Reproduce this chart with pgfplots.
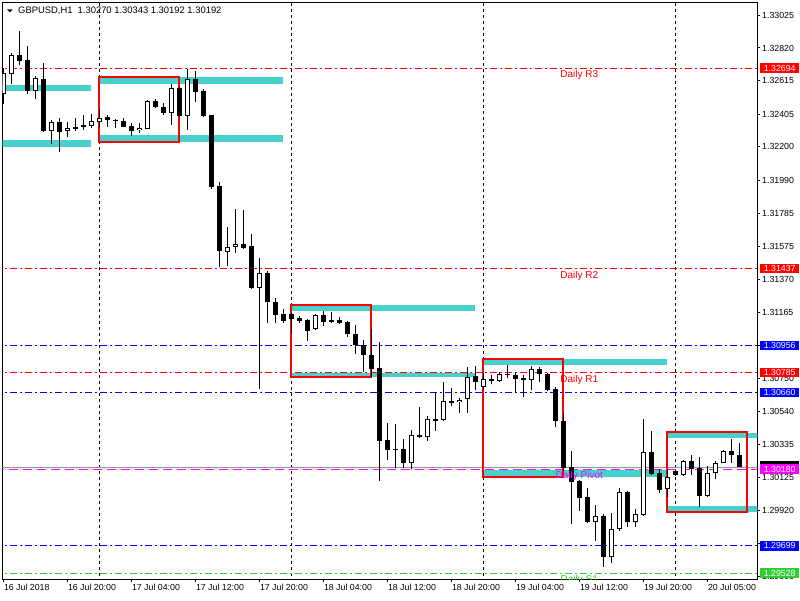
\documentclass[border=0pt]{standalone}
\usepackage{fontspec}
\setmainfont{Liberation Sans}
\usepackage{pgfplots}
\usepackage{pgfplotstable}
\pgfplotsset{compat=1.18}

\definecolor{mtred}{RGB}{255,0,0}
\definecolor{mtblue}{RGB}{0,0,255}
\definecolor{mtmag}{RGB}{255,0,255}
\definecolor{mtgreen}{RGB}{50,205,50}
\definecolor{mtcyan}{RGB}{72,209,204}
\definecolor{bidgray}{RGB}{150,150,150}
\newcommand\tickfont{\fontsize{8.8}{10}\selectfont}
\newcommand\lblfont{\fontsize{10}{12}\selectfont}

\pgfplotstableread{
k o h l c
0 1.32532 1.32693 1.32469 1.32661
1 1.32657 1.32791 1.32592 1.32776
2 1.32776 1.32927 1.32713 1.32740
3 1.32745 1.32833 1.32532 1.32550
4 1.32552 1.32644 1.32498 1.32630
5 1.32626 1.32729 1.32293 1.32302
6 1.32302 1.32369 1.32218 1.32354
7 1.32354 1.32384 1.32165 1.32295
8 1.32302 1.32354 1.32260 1.32317
9 1.32327 1.32379 1.32302 1.32314
10 1.32339 1.32400 1.32306 1.32327
11 1.32333 1.32404 1.32317 1.32362
12 1.32354 1.32438 1.32323 1.32383
13 1.32386 1.32400 1.32327 1.32369
14 1.32369 1.32375 1.32317 1.32361
15 1.32361 1.32379 1.32323 1.32327
16 1.32331 1.32348 1.32270 1.32302
17 1.32306 1.32348 1.32289 1.32319
18 1.32314 1.32494 1.32310 1.32488
19 1.32486 1.32500 1.32442 1.32448
20 1.32448 1.32473 1.32400 1.32411
21 1.32411 1.32594 1.32337 1.32567
22 1.32567 1.32574 1.32386 1.32396
23 1.32396 1.32688 1.32306 1.32626
24 1.32626 1.32676 1.32483 1.32546
25 1.32550 1.32563 1.32389 1.32396
26 1.32400 1.32403 1.31938 1.31951
27 1.31955 1.31980 1.31449 1.31549
28 1.31543 1.31698 1.31453 1.31571
29 1.31571 1.31811 1.31537 1.31591
30 1.31591 1.31805 1.31562 1.31568
31 1.31579 1.31654 1.31309 1.31316
32 1.31316 1.31502 1.30682 1.31408
33 1.31408 1.31422 1.31098 1.31230
34 1.31226 1.31251 1.31094 1.31148
35 1.31151 1.31182 1.31094 1.31110
36 1.31153 1.31157 1.31032 1.31123
37 1.31127 1.31140 1.31098 1.31110
38 1.31113 1.31121 1.30985 1.31048
39 1.31057 1.31153 1.31052 1.31146
40 1.31146 1.31171 1.31077 1.31102
41 1.31115 1.31165 1.31098 1.31102
42 1.31115 1.31132 1.31088 1.31098
43 1.31104 1.31110 1.31010 1.31025
44 1.31027 1.31084 1.30902 1.30956
45 1.30958 1.30990 1.30789 1.30897
46 1.30896 1.31057 1.30756 1.30808
47 1.30814 1.30977 1.30106 1.30358
48 1.30363 1.30467 1.30237 1.30300
49 1.30300 1.30463 1.30185 1.30306
50 1.30306 1.30369 1.30185 1.30220
51 1.30220 1.30425 1.30179 1.30394
52 1.30394 1.30571 1.30373 1.30383
53 1.30383 1.30513 1.30358 1.30494
54 1.30494 1.30662 1.30421 1.30484
55 1.30490 1.30724 1.30482 1.30605
56 1.30607 1.30687 1.30578 1.30595
57 1.30599 1.30624 1.30530 1.30613
58 1.30618 1.30818 1.30534 1.30759
59 1.30762 1.30827 1.30676 1.30724
60 1.30697 1.30781 1.30676 1.30743
61 1.30743 1.30770 1.30714 1.30734
62 1.30734 1.30791 1.30724 1.30776
63 1.30776 1.30833 1.30749 1.30768
64 1.30772 1.30789 1.30655 1.30747
65 1.30751 1.30768 1.30634 1.30739
66 1.30739 1.30827 1.30676 1.30806
67 1.30806 1.30818 1.30728 1.30775
68 1.30776 1.30785 1.30670 1.30676
69 1.30681 1.30697 1.30442 1.30484
70 1.30482 1.30534 1.30170 1.30189
71 1.30193 1.30294 1.29834 1.30101
72 1.30106 1.30110 1.29919 1.30001
73 1.30005 1.30060 1.29845 1.29849
74 1.29850 1.29957 1.29731 1.29886
75 1.29886 1.29899 1.29568 1.29627
76 1.29627 1.29907 1.29593 1.29803
77 1.29803 1.30060 1.29794 1.30039
78 1.30039 1.30042 1.29819 1.29850
79 1.29850 1.29928 1.29819 1.29899
80 1.29893 1.30494 1.29886 1.30286
81 1.30286 1.30419 1.30143 1.30148
82 1.30154 1.30179 1.30032 1.30049
83 1.30054 1.30179 1.30007 1.30133
84 1.30166 1.30175 1.30137 1.30141
85 1.30141 1.30237 1.30137 1.30229
86 1.30229 1.30269 1.30143 1.30183
87 1.30185 1.30254 1.29945 1.30014
88 1.30014 1.30200 1.30007 1.30154
89 1.30154 1.30231 1.30118 1.30217
90 1.30220 1.30300 1.30218 1.30292
91 1.30292 1.30367 1.30217 1.30270
92 1.30270 1.30343 1.30192 1.30192
}\candles

\begin{document}
\begin{tikzpicture}[x=1pt,y=1pt]
\useasboundingbox (0,0) rectangle (800,600);
\begin{axis}[
  at={(2.7pt,21pt)}, anchor=south west,
  scale only axis, width=754.6pt, height=576.5pt,
  xmin=-0.075, xmax=94.25,
  ymin=1.294913, ymax=1.331052,
  axis line style={line width=1pt, black},
  tick align=outside,
  xtick pos=left, ytick pos=right,
  major tick length=3pt,
  major tick style={line width=1pt, black},
  minor tick num=0,
  scaled ticks=false,
  xtick={0,8,16,24,32,40,48,56,64,72,80,88},
  xticklabels={16 Jul 2018,16 Jul 20:00,17 Jul 04:00,17 Jul 12:00,17 Jul 20:00,18 Jul 04:00,18 Jul 12:00,18 Jul 20:00,19 Jul 04:00,19 Jul 12:00,19 Jul 20:00,20 Jul 05:00},
  xticklabel style={anchor=north west, inner sep=0pt, xshift=0.5pt, yshift=-2pt, font=\tickfont},
  ytick={1.33025,1.32820,1.32615,1.32405,1.32200,1.31990,1.31785,1.31575,1.31370,1.31165,1.30955,1.30750,1.30540,1.30335,1.30125,1.29920,1.29715,1.29505},
  yticklabels={1.33025,1.32820,1.32615,1.32405,1.32200,1.31990,1.31785,1.31575,1.31370,1.31165,{},1.30750,1.30540,1.30335,1.30125,1.29920,{},1.29505},
  yticklabel style={anchor=west, inner sep=0pt, xshift=1.7pt, font=\tickfont},
]
% vertical day grid
\pgfplotsinvokeforeach{12,36,60,84}{
  \addplot[black, line width=1pt, dash pattern=on 3pt off 3pt] coordinates {(#1,1.2940) (#1,1.3320)};
}
% cyan zones
\addplot[fill=mtcyan, draw=none] coordinates {(-1,1.32588) (11,1.32588) (11,1.32551) (-1,1.32551)};
\addplot[fill=mtcyan, draw=none] coordinates {(-1,1.32243) (11,1.32243) (11,1.32199) (-1,1.32199)};
\addplot[fill=mtcyan, draw=none] coordinates {(12,1.32638) (35,1.32638) (35,1.32596) (12,1.32596)};
\addplot[fill=mtcyan, draw=none] coordinates {(12,1.32275) (35,1.32275) (35,1.32233) (12,1.32233)};
\addplot[fill=mtcyan, draw=none] coordinates {(36,1.31209) (59,1.31209) (59,1.31171) (36,1.31171)};
\addplot[fill=mtcyan, draw=none] coordinates {(36,1.30785) (59,1.30785) (59,1.30759) (36,1.30759)};
\addplot[fill=mtcyan, draw=none] coordinates {(60,1.30869) (83,1.30869) (83,1.30833) (60,1.30833)};
\addplot[fill=mtcyan, draw=none] coordinates {(60,1.30175) (83,1.30175) (83,1.30133) (60,1.30133)};
\addplot[fill=mtcyan, draw=none] coordinates {(83,1.30405) (96,1.30405) (96,1.30373) (83,1.30373)};
\addplot[fill=mtcyan, draw=none] coordinates {(83,1.29949) (96,1.29949) (96,1.29913) (83,1.29913)};
% pivot levels
\addplot[mtred, line width=1pt, dash pattern=on 7pt off 3pt on 2pt off 3pt] coordinates {(-1,1.32694) (96,1.32694)};
\addplot[mtred, line width=1pt, dash pattern=on 7pt off 3pt on 2pt off 3pt] coordinates {(-1,1.31437) (96,1.31437)};
\addplot[mtblue, line width=1pt, dash pattern=on 7pt off 3pt on 2pt off 3pt] coordinates {(-1,1.30956) (96,1.30956)};
\addplot[mtred, line width=1pt, dash pattern=on 7pt off 3pt on 2pt off 3pt] coordinates {(-1,1.30785) (96,1.30785)};
\addplot[mtblue, line width=1pt, dash pattern=on 7pt off 3pt on 2pt off 3pt] coordinates {(-1,1.30660) (96,1.30660)};
\addplot[bidgray, line width=1pt] coordinates {(-1,1.30192) (96,1.30192)};
\addplot[mtmag, line width=1pt, dash pattern=on 9pt off 5pt] coordinates {(-1,1.30180) (96,1.30180)};
\addplot[mtblue, line width=1pt, dash pattern=on 7pt off 3pt on 2pt off 3pt] coordinates {(-1,1.29699) (96,1.29699)};
\addplot[mtgreen, line width=1pt, dash pattern=on 7pt off 3pt on 2pt off 3pt] coordinates {(-1,1.29528) (96,1.29528)};
% red boxes
\addplot[mtred, line width=2pt, line cap=rect] coordinates {(12,1.32638) (22,1.32638) (22,1.32233) (12,1.32233) (12,1.32638)};
\addplot[mtred, line width=2pt, line cap=rect] coordinates {(36,1.31209) (46,1.31209) (46,1.30756) (36,1.30756) (36,1.31209)};
\addplot[mtred, line width=2pt, line cap=rect] coordinates {(60,1.30870) (70,1.30870) (70,1.30133) (60,1.30133) (60,1.30870)};
\addplot[mtred, line width=2pt, line cap=rect] coordinates {(83,1.30411) (93,1.30411) (93,1.29909) (83,1.29909) (83,1.30411)};
% candles: wicks
\addplot[draw=none, mark=none, error bars/.cd, y dir=plus, y explicit, error mark=none,
  error bar style={line width=1pt, draw=black}]
  table[x=k, y=l, y error plus expr={\thisrow{h}-\thisrow{l}}] {\candles};
% candles: bodies
\addplot[draw=none, mark=none, error bars/.cd, y dir=plus, y explicit, error mark=none,
  error bar style={line width=5pt, draw=black}]
  table[x=k, y expr={min(\thisrow{o},\thisrow{c})}, y error plus expr={max(abs(\thisrow{c}-\thisrow{o}),0.00007)}] {\candles};
% candles: white interiors of rising bars
\addplot[draw=none, mark=none, error bars/.cd, y dir=plus, y explicit, error mark=none,
  error bar style={line width=3pt, draw=white}]
  table[x=k, y expr={\thisrow{o}+0.0000627}, y error plus expr={max(\thisrow{c}-\thisrow{o}-0.000125,0)}] {\candles};
% level labels
\node[text=mtred, anchor=north, inner sep=0pt, font=\lblfont, yshift=-2pt] at (axis cs:72,1.32694) {Daily R3};
\node[text=mtred, anchor=north, inner sep=0pt, font=\lblfont, yshift=-2pt] at (axis cs:72,1.31437) {Daily R2};
\node[text=mtred, anchor=north, inner sep=0pt, font=\lblfont, yshift=-2pt] at (axis cs:72,1.30785) {Daily R1};
\node[text=mtmag, anchor=north, inner sep=0pt, font=\lblfont, yshift=-2pt] at (axis cs:72,1.30180) {Daily Pivot};
\node[text=mtgreen, anchor=north, inner sep=0pt, font=\lblfont, yshift=-2pt] at (axis cs:72,1.29528) {Daily S1};
% anchors for price boxes
\coordinate (pR3) at (axis cs:94.25,1.32694);
\coordinate (pR2) at (axis cs:94.25,1.31437);
\coordinate (pB1) at (axis cs:94.25,1.30956);
\coordinate (pR1) at (axis cs:94.25,1.30785);
\coordinate (pB2) at (axis cs:94.25,1.30660);
\coordinate (pBid) at (axis cs:94.25,1.30192);
\coordinate (pP) at (axis cs:94.25,1.30180);
\coordinate (pB3) at (axis cs:94.25,1.29699);
\coordinate (pS1) at (axis cs:94.25,1.29528);
\end{axis}
\tikzset{pbox/.style={anchor=west, inner sep=0pt, minimum width=39pt, minimum height=9.6pt, text=white, font=\tickfont}}
\node[pbox, fill=mtred] at ([xshift=2.7pt]pR3) {1.32694};
\node[pbox, fill=mtred] at ([xshift=2.7pt]pR2) {1.31437};
\node[pbox, fill=mtblue] at ([xshift=2.7pt]pB1) {1.30956};
\node[pbox, fill=mtred] at ([xshift=2.7pt]pR1) {1.30785};
\node[pbox, fill=mtblue] at ([xshift=2.7pt]pB2) {1.30660};
\node[pbox, fill=black] at ([xshift=2.7pt, yshift=1pt]pBid) {};
\node[pbox, fill=mtmag] at ([xshift=2.7pt]pP) {1.30180};
\node[pbox, fill=mtblue] at ([xshift=2.7pt]pB3) {1.29699};
\node[pbox, fill=mtgreen] at ([xshift=2.7pt]pS1) {1.29528};
% header
\fill[black] (7,590.7) -- (12.7,590.7) -- (9.85,587.7) -- cycle;
\node[anchor=base west, inner sep=0pt, font=\fontsize{9.4}{11}\selectfont] at (18,586) {GBPUSD,H1\ \ 1.30270 1.30343 1.30192 1.30192};
\end{tikzpicture}
\end{document}
